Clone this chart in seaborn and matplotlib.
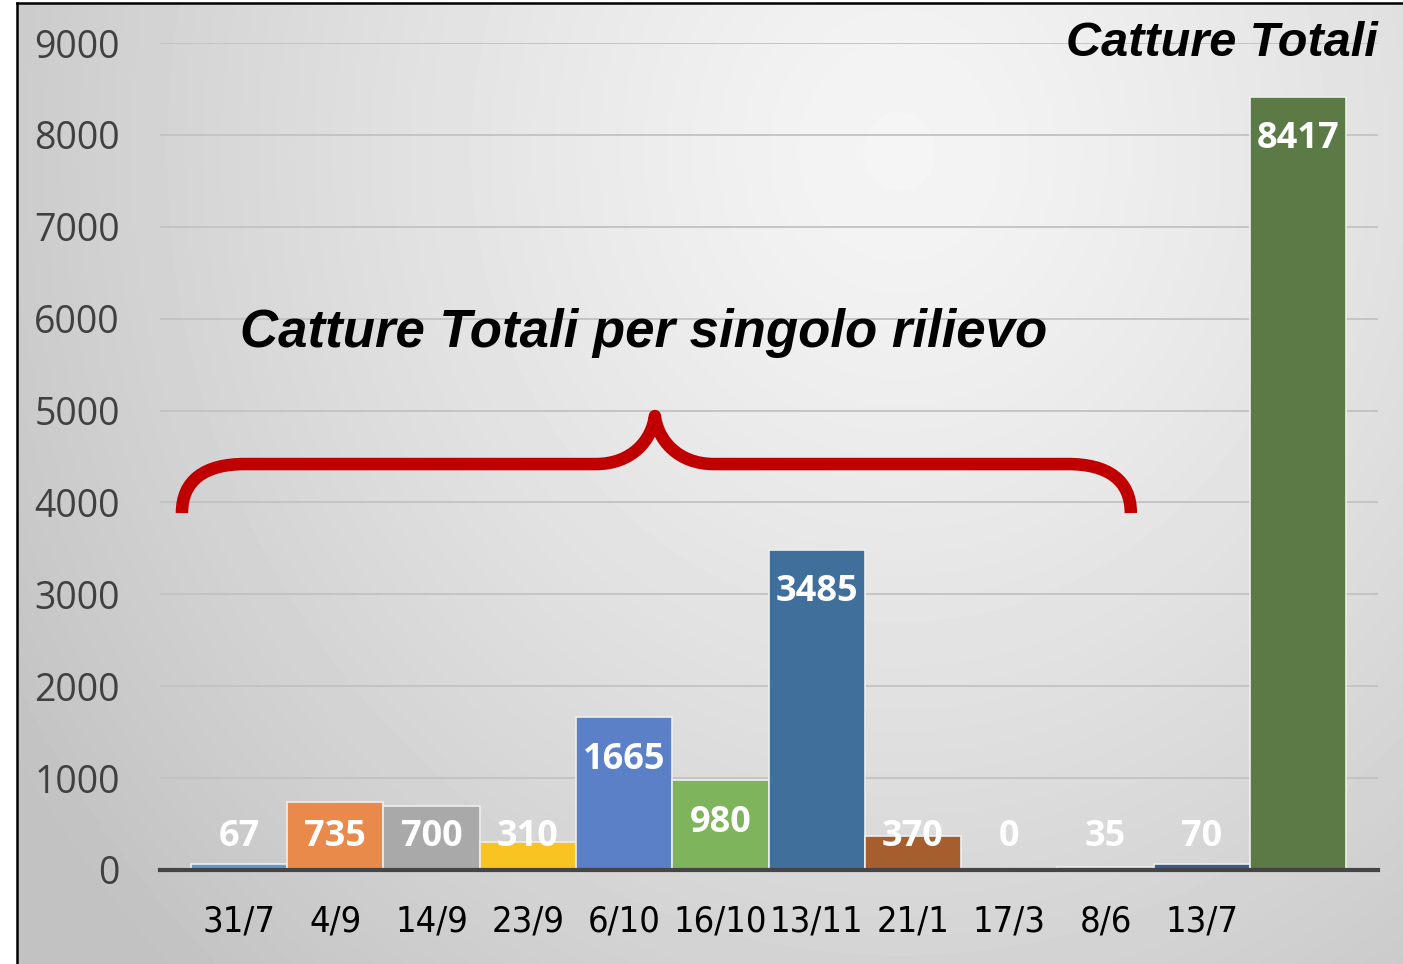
import numpy as np
import pandas as pd
import matplotlib
matplotlib.use("Agg")
import matplotlib.pyplot as plt
from matplotlib import font_manager as fm
from matplotlib.path import Path
from matplotlib.patches import PathPatch
import seaborn as sns

# data
date_rilievo = ["31/7", "4/9", "14/9", "23/9", "6/10", "16/10", "13/11", "21/1", "17/3", "8/6", "13/7", ""]
catture = [67, 735, 700, 310, 1665, 980, 3485, 370, 0, 35, 70, 8417]
colori = ["#5B9BD5", "#E9894A", "#A9A9A9", "#F9C322", "#5B80C8", "#7EB45C",
          "#3F6F9A", "#A65E2E", "#7A7A7A", "#9C7A1E", "#3B5A8F", "#5B7A45"]
yticks = [0, 1000, 2000, 3000, 4000, 5000, 6000, 7000, 8000, 9000]

df = pd.DataFrame({"data": date_rilievo, "catture": catture})

# look for a narrow / condensed font for the date labels
def find_narrow():
    cands = []
    for f in fm.fontManager.ttflist:
        st = f.stretch
        narrow = ("Narrow" in f.name or "Condensed" in f.name
                  or st in ("condensed", "semi-condensed", "extra-condensed")
                  or (isinstance(st, int) and st < 500))
        if narrow and f.style == "normal" and f.weight in (400, "normal", "regular", "book"):
            pri = 0 if "Liberation" in f.name else (1 if "DejaVu" in f.name else 2)
            cands.append((pri, f.fname))
    cands.sort()
    return cands[0][1] if cands else None

narrow_file = find_narrow()
if narrow_file:
    xtick_font = fm.FontProperties(fname=narrow_file, size=26)
else:
    xtick_font = fm.FontProperties(family="Liberation Sans", size=24)

W, H = 1403, 964
fig = plt.figure(figsize=(W / 100, H / 100), dpi=100)
fig.patch.set_facecolor("white")

# gradient background with black border on left/top
bg = fig.add_axes([17 / W, 0, 1 - 17 / W, (H - 3) / H])
xs = np.linspace(17, W, 300)
ys = np.linspace(3, H, 220)
X, Y = np.meshgrid(xs, ys)
d = np.sqrt((X - 900) ** 2 + ((Y - 150) / 1.1) ** 2)
val = np.clip(0.96 - 0.165 * (d / 900) ** 1.25, 0.76, 1)
bg.imshow(val, cmap="gray", vmin=0, vmax=1, aspect="auto", interpolation="bilinear",
          extent=[0, 1, 0, 1], origin="upper")
bg.set_xticks([])
bg.set_yticks([])
for s in ["right", "bottom"]:
    bg.spines[s].set_visible(False)
for s in ["left", "top"]:
    bg.spines[s].set_color("black")
    bg.spines[s].set_linewidth(1.8)
bg.set_zorder(0)

ax = fig.add_axes([160 / W, (H - 870) / H, (1378 - 160) / W, (870 - 43) / H])
ax.set_facecolor("none")
ax.set_zorder(1)

sns.barplot(data=df, x="data", y="catture", hue="data", palette=colori, order=date_rilievo,
            width=1.0, legend=False, saturation=1, edgecolor="#eeeeee", linewidth=1.2, ax=ax,
            zorder=3)

ax.set_xlim(-0.82, 11.83)
ax.set_ylim(0, 9000)
ax.set_yticks(yticks)
ax.set_yticklabels([str(t) for t in yticks], fontsize=27, color="#404040",
                   fontfamily=["Open Sans", "DejaVu Sans"])
ax.tick_params(axis="y", length=0, pad=29)
ax.set_xticks(range(len(date_rilievo)))
ax.set_xticklabels(date_rilievo, color="black", fontproperties=xtick_font)
ax.tick_params(axis="x", length=0, pad=25)
ax.set_xlabel("")
ax.set_ylabel("")

ax.grid(axis="y", color="#c2c2c2", linewidth=1.3, zorder=1)
ax.set_axisbelow(True)
for s in ["left", "right", "top"]:
    ax.spines[s].set_visible(False)
ax.spines["bottom"].set_color("#454545")
ax.spines["bottom"].set_linewidth(3)
ax.spines["bottom"].set_zorder(4)

# value labels
for i, v in enumerate(catture):
    ax.text(i, max(v - 465, 355), str(v), ha="center", va="center", color="white",
            fontsize=26, fontweight="bold", fontfamily=["Open Sans", "DejaVu Sans"], zorder=5)

# titles
fig.text(1378 / W, 1 - 43 / H, "Catture Totali", ha="right", va="center", fontsize=35,
         fontweight="bold", fontstyle="italic", fontfamily=["Liberation Sans", "DejaVu Sans"])
ax.text((240 - 239) / 96.3, (870 - 333) / 91.9 * 1000, "Catture Totali per singolo rilievo",
        ha="left", va="center", fontsize=38, fontweight="bold", fontstyle="italic",
        fontfamily=["Liberation Sans", "DejaVu Sans"], zorder=5)

# red curly brace
def p(px, py):
    return ((px - 239) / 96.3, (870 - py) / 91.9 * 1000)

pts = [p(182, 513),
       p(182, 480), p(205, 464), p(245, 464),
       p(596, 464),
       p(632, 464), p(652, 440), p(655, 416),
       p(658, 440), p(678, 464), p(714, 464),
       p(1068, 464),
       p(1108, 464), p(1131, 480), p(1131, 513)]
codes = [Path.MOVETO,
         Path.CURVE4, Path.CURVE4, Path.CURVE4,
         Path.LINETO,
         Path.CURVE4, Path.CURVE4, Path.CURVE4,
         Path.CURVE4, Path.CURVE4, Path.CURVE4,
         Path.LINETO,
         Path.CURVE4, Path.CURVE4, Path.CURVE4]
brace = PathPatch(Path(pts, codes), facecolor="none", edgecolor="#C00000", linewidth=9,
                  capstyle="butt", joinstyle="round", zorder=5, clip_on=False)
ax.add_patch(brace)

fig.savefig("out.png", dpi=100)
